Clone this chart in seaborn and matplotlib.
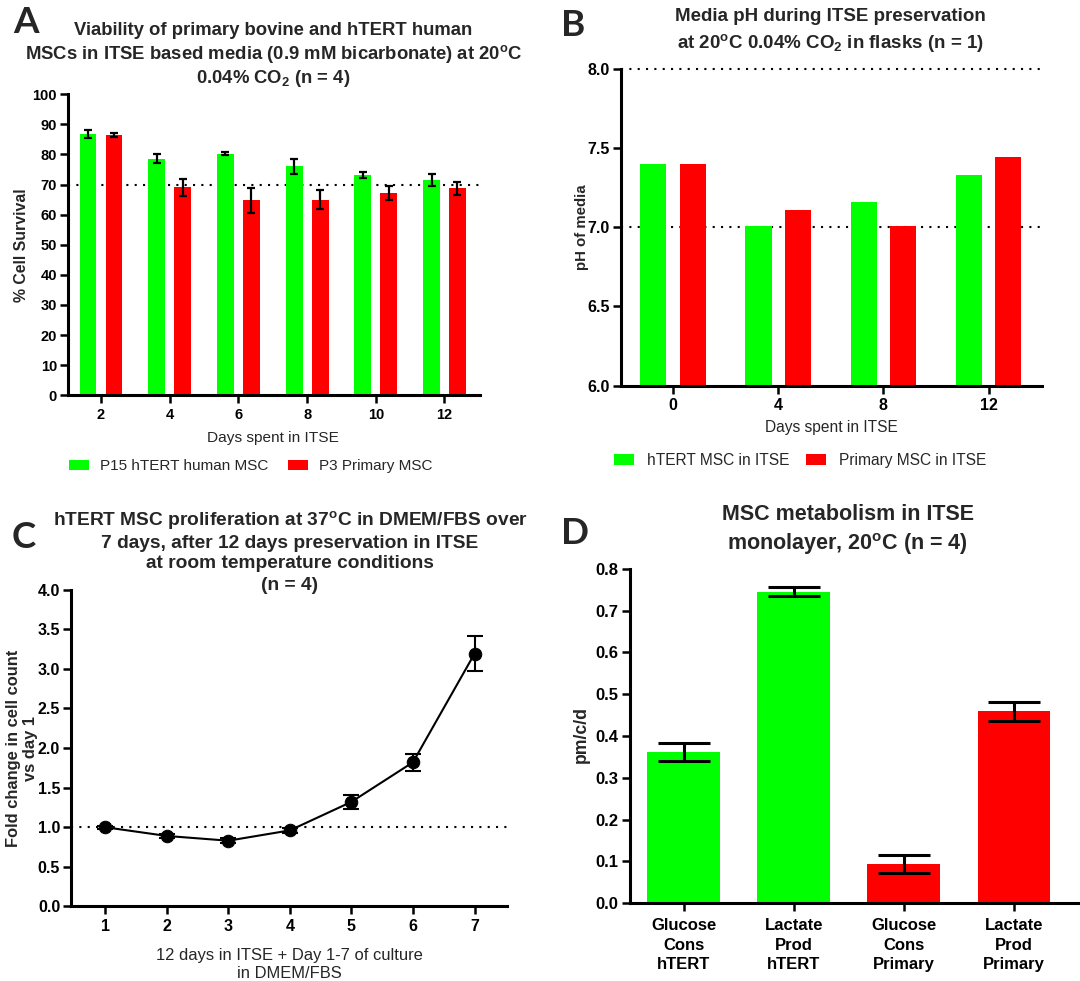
import numpy as np
import pandas as pd
import matplotlib
matplotlib.use("Agg")
import matplotlib.pyplot as plt
import seaborn as sns

GREEN = "#00FF00"
RED = "#FF0000"

# ---------------- Panel A data ----------------
a_days = ["2", "4", "6", "8", "10", "12"]
a_groups = ["P15 hTERT human MSC", "P3 Primary MSC"]
a_htert = [86.7, 78.6, 80.3, 76.0, 73.1, 71.6]
a_htert_err = [1.35, 1.4, 0.55, 2.5, 1.0, 2.0]
a_primary = [86.4, 69.1, 64.8, 65.0, 67.1, 68.7]
a_primary_err = [0.6, 2.9, 4.2, 3.1, 2.4, 2.2]
a_yticks = [0, 10, 20, 30, 40, 50, 60, 70, 80, 90, 100]

# ---------------- Panel B data ----------------
b_days = ["0", "4", "8", "12"]
b_groups = ["hTERT MSC in ITSE", "Primary MSC in ITSE"]
b_htert = [7.40, 7.01, 7.16, 7.33]
b_primary = [7.40, 7.11, 7.01, 7.44]
b_yticks = [6.0, 6.5, 7.0, 7.5, 8.0]

# ---------------- Panel C data ----------------
c_days = [1, 2, 3, 4, 5, 6, 7]
c_fold = [1.00, 0.89, 0.83, 0.96, 1.32, 1.82, 3.19]
c_err = [0.02, 0.025, 0.03, 0.03, 0.085, 0.11, 0.22]
c_yticks = [0.0, 0.5, 1.0, 1.5, 2.0, 2.5, 3.0, 3.5, 4.0]

# ---------------- Panel D data ----------------
d_cats = ["Glucose\nCons\nhTERT", "Lactate\nProd\nhTERT",
          "Glucose\nCons\nPrimary", "Lactate\nProd\nPrimary"]
d_vals = [0.362, 0.746, 0.093, 0.459]
d_err = [0.022, 0.010, 0.021, 0.022]
d_colors = [GREEN, GREEN, RED, RED]
d_yticks = [0.0, 0.1, 0.2, 0.3, 0.4, 0.5, 0.6, 0.7, 0.8]

sns.set_style("ticks")
plt.rcParams["font.family"] = ["Liberation Sans", "DejaVu Sans"]
plt.rcParams["mathtext.default"] = "regular"

fig = plt.figure(figsize=(10.8, 9.81), dpi=100)

axA = fig.add_axes([0.063, 0.597, 0.381, 0.307])
axB = fig.add_axes([0.575, 0.607, 0.390, 0.323])
axC = fig.add_axes([0.066, 0.076, 0.403, 0.323])
axD = fig.add_axes([0.583, 0.0795, 0.417, 0.3405])


def style(ax, fs, fmt=None):
    sns.despine(ax=ax)
    for s in ("left", "bottom"):
        ax.spines[s].set_linewidth(2.2)
        ax.spines[s].set_color("black")
    ax.tick_params(width=1.8, length=6, color="black", labelsize=fs,
                   direction="out", labelcolor="black")
    ax.tick_params(axis="y", pad=2)
    ax.tick_params(axis="x", pad=3)
    if fmt is not None:
        ax.set_yticklabels([fmt.format(v) for v in ax.get_yticks()])
    for t in ax.get_xticklabels() + ax.get_yticklabels():
        t.set_fontweight("bold")
        t.set_fontsize(fs)


def dotted(ax, y):
    ax.axhline(y, color="black", lw=1.5, ls=(0, (1, 3)), zorder=0.5, clip_on=False)


# ---------------- Panel A ----------------
dfA = pd.DataFrame({
    "day": a_days * 2,
    "val": a_htert + a_primary,
    "grp": [a_groups[0]] * len(a_days) + [a_groups[1]] * len(a_days),
})
sns.barplot(data=dfA, x="day", y="val", hue="grp", order=a_days, hue_order=a_groups,
            palette=[GREEN, RED], width=0.756, gap=0.35, errorbar=None,
            linewidth=0, saturation=1, ax=axA, zorder=2)
for cont, errs in zip(axA.containers, [a_htert_err, a_primary_err]):
    xs = [p.get_x() + p.get_width() / 2 for p in cont]
    ys = [p.get_height() for p in cont]
    axA.errorbar(xs, ys, yerr=errs, fmt="none", ecolor="black", elinewidth=1.6,
                 capsize=3.2, capthick=1.6, zorder=3)
dotted(axA, 70)
axA.set_ylim(0, 100)
axA.set_xlim(-0.48, 5.51)
axA.set_yticks(a_yticks)
style(axA, 10.5)
axA.set_ylabel("% Cell Survival", fontsize=11.4, fontweight="bold")
axA.yaxis.set_label_coords(-0.112, 0.5)
axA.yaxis.label.set_va("center")
axA.set_xlabel("Days spent in ITSE", fontsize=11.1)
axA.xaxis.set_label_coords(0.498, -0.14)
axA.xaxis.label.set_va("center")
sns.move_legend(axA, "center", bbox_to_anchor=(0.444, -0.236), ncol=2, title=None,
                frameon=False, fontsize=11, handlelength=1.3, handleheight=0.65,
                columnspacing=1.3, handletextpad=0.7)

# ---------------- Panel B ----------------
dfB = pd.DataFrame({
    "day": b_days * 2,
    "val": b_htert + b_primary,
    "grp": [b_groups[0]] * len(b_days) + [b_groups[1]] * len(b_days),
})
sns.barplot(data=dfB, x="day", y="val", hue="grp", order=b_days, hue_order=b_groups,
            palette=[GREEN, RED], width=0.75, gap=0.34, errorbar=None,
            linewidth=0, saturation=1, ax=axB, zorder=2)
dotted(axB, 7.0)
dotted(axB, 8.0)
axB.set_ylim(6, 8)
axB.set_xlim(-0.495, 3.51)
axB.set_yticks(b_yticks)
style(axB, 11.5, "{:.1f}")
axB.set_ylabel("pH of media", fontsize=10.8, fontweight="bold")
axB.yaxis.set_label_coords(-0.093, 0.5)
axB.yaxis.label.set_va("center")
axB.set_xlabel("Days spent in ITSE", fontsize=11.2)
axB.xaxis.set_label_coords(0.499, -0.132)
axB.xaxis.label.set_va("center")
sns.move_legend(axB, "center", bbox_to_anchor=(0.425, -0.237), ncol=2, title=None,
                frameon=False, fontsize=11.2, handlelength=1.3, handleheight=0.65,
                columnspacing=1.1, handletextpad=0.8)

# ---------------- Panel C ----------------
dotted(axC, 1.0)
sns.lineplot(x=c_days, y=c_fold, color="black", lw=1.5, marker="o", markersize=9,
             markeredgecolor="black", markerfacecolor="black", ax=axC, zorder=3)
axC.errorbar(c_days, c_fold, yerr=c_err, fmt="none", ecolor="black", elinewidth=1.5,
             capsize=5.5, capthick=1.5, zorder=3)
axC.set_ylim(0, 4)
axC.set_xlim(0.45, 7.52)
axC.set_xticks(c_days)
axC.set_yticks(c_yticks)
style(axC, 11.5, "{:.1f}")
axC.set_ylabel("Fold change in cell count\nvs day 1", fontsize=11.9, fontweight="bold",
               linespacing=1.2)
axC.yaxis.set_label_coords(-0.113, 0.5)
axC.yaxis.label.set_va("center")
axC.set_xlabel("12 days in ITSE + Day 1-7 of culture\nin DMEM/FBS", fontsize=11.9,
               linespacing=1.2)
axC.xaxis.set_label_coords(0.502, -0.183)
axC.xaxis.label.set_va("center")

# ---------------- Panel D ----------------
sns.barplot(x=d_cats, y=d_vals, hue=d_cats, palette=d_colors, legend=False,
            width=0.66, errorbar=None, linewidth=0, saturation=1, ax=axD, zorder=2)
xsD, ysD = [], []
for cont in axD.containers:
    for p in cont:
        xsD.append(p.get_x() + p.get_width() / 2)
        ysD.append(p.get_height())
axD.errorbar(xsD, ysD, yerr=d_err, fmt="none", ecolor="black", elinewidth=2.2,
             capsize=19, capthick=2.2, zorder=3)
axD.set_ylim(0, 0.8)
axD.set_xlim(-0.49, 3.6)
axD.set_yticks(d_yticks)
style(axD, 12, "{:.1f}")
axD.tick_params(axis="x", pad=5)
for t in axD.get_xticklabels():
    t.set_linespacing(1.36)
axD.set_ylabel("pm/c/d", fontsize=12.7, fontweight="bold")
axD.yaxis.set_label_coords(-0.107, 0.503)
axD.yaxis.label.set_va("center")
axD.set_xlabel("")

# ---------------- Titles ----------------
fig.text(0.253, 0.9434,
         "Viability of primary bovine and hTERT human\n"
         "MSCs in ITSE based media (0.9 mM bicarbonate) at 20$^{o}$C\n"
         "0.04% CO$_{2}$ (n = 4)",
         ha="center", va="center", fontsize=13.3, fontweight="bold", linespacing=1.2)
fig.text(0.7685, 0.9685,
         "Media pH during ITSE preservation\n"
         "at 20$^{o}$C 0.04% CO$_{2}$ in flasks (n = 1)",
         ha="center", va="center", fontsize=13.5, fontweight="bold", linespacing=1.4)
fig.text(0.2685, 0.449,
         "hTERT MSC proliferation at 37$^{o}$C in DMEM/FBS over\n"
         "7 days, after 12 days preservation in ITSE\n"
         "at room temperature conditions",
         ha="center", va="center", fontsize=13.8, fontweight="bold", linespacing=1.25)
fig.text(0.2685, 0.4027, "(n = 4)",
         ha="center", va="center", fontsize=13.8, fontweight="bold")
fig.text(0.785, 0.4593,
         "MSC metabolism in ITSE\nmonolayer, 20$^{o}$C (n = 4)",
         ha="center", va="center", fontsize=15.5, fontweight="bold", linespacing=1.3)

# ---------------- Panel letters ----------------
for letter, (x, y) in {"A": (0.024, 0.9766), "B": (0.5306, 0.9745),
                       "C": (0.0222, 0.4516), "D": (0.5324, 0.4557)}.items():
    fig.text(x, y, letter, ha="center", va="center", fontsize=26.5, fontweight="bold",
             family=["Lato", "DejaVu Sans"])

fig.savefig("out.png", dpi=100)
